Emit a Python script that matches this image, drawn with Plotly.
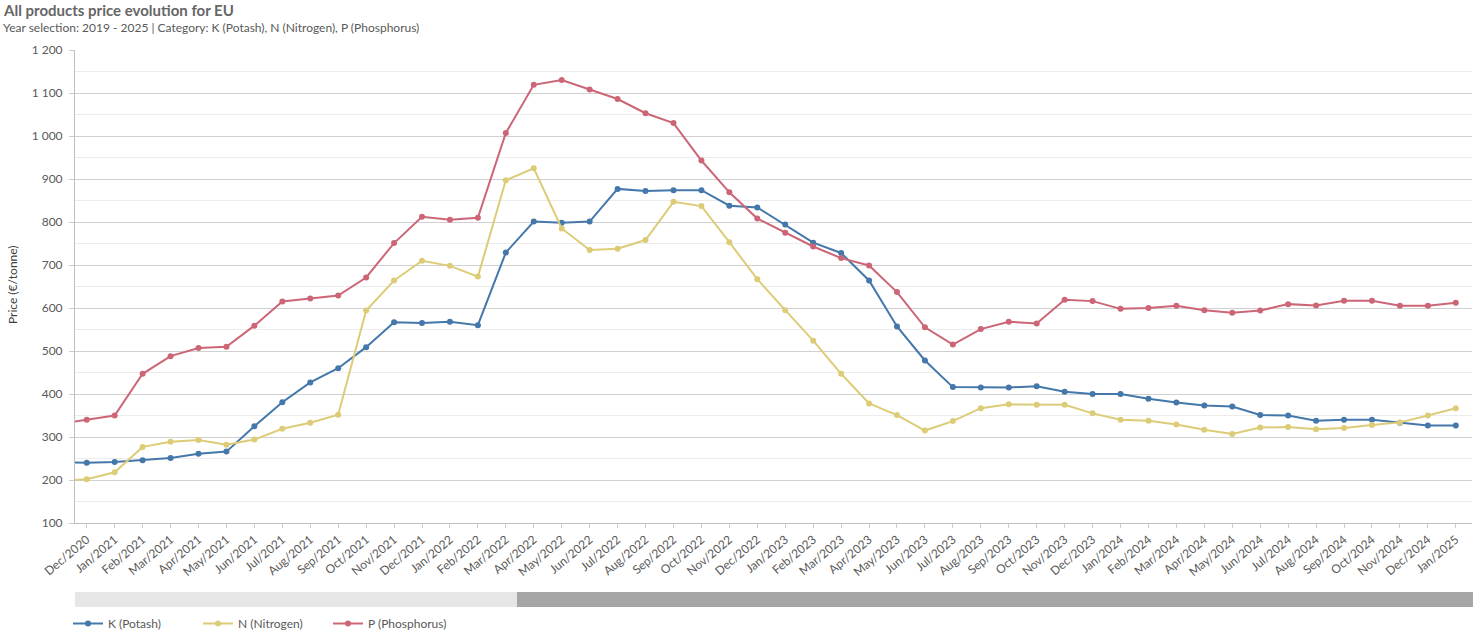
import plotly.graph_objects as go

months = [
    "Nov/2020", "Dec/2020",
    "Jan/2021", "Feb/2021", "Mar/2021", "Apr/2021", "May/2021", "Jun/2021",
    "Jul/2021", "Aug/2021", "Sep/2021", "Oct/2021", "Nov/2021", "Dec/2021",
    "Jan/2022", "Feb/2022", "Mar/2022", "Apr/2022", "May/2022", "Jun/2022",
    "Jul/2022", "Aug/2022", "Sep/2022", "Oct/2022", "Nov/2022", "Dec/2022",
    "Jan/2023", "Feb/2023", "Mar/2023", "Apr/2023", "May/2023", "Jun/2023",
    "Jul/2023", "Aug/2023", "Sep/2023", "Oct/2023", "Nov/2023", "Dec/2023",
    "Jan/2024", "Feb/2024", "Mar/2024", "Apr/2024", "May/2024", "Jun/2024",
    "Jul/2024", "Aug/2024", "Sep/2024", "Oct/2024", "Nov/2024", "Dec/2024",
    "Jan/2025",
]

k_potash = [
    242, 240,
    242, 246, 251, 261, 266, 325, 381, 427, 460, 509, 567, 565,
    568, 560, 729, 801, 798, 801, 877, 872, 874, 874, 838, 834,
    794, 752, 728, 664, 557, 478, 416, 415, 415, 418, 405, 400,
    400, 389, 380, 373, 371, 351, 350, 338, 340, 340, 333, 327,
    327,
]

n_nitrogen = [
    197, 202,
    218, 277, 289, 293, 282, 294, 319, 333, 352, 594, 664, 710,
    698, 673, 897, 925, 785, 735, 738, 758, 847, 837, 753, 667,
    595, 524, 447, 378, 351, 315, 337, 367, 376, 375, 375, 355,
    340, 338, 329, 317, 307, 322, 323, 318, 321, 328, 334, 350,
    367,
]

p_phosphorus = [
    330, 340,
    350, 447, 488, 507, 510, 559, 615, 622, 629, 671, 751, 812,
    805, 810, 1007, 1119, 1130, 1108, 1086, 1053, 1030, 943, 869, 808,
    775, 743, 716, 699, 637, 555, 515, 551, 568, 564, 619, 616,
    598, 600, 605, 595, 589, 594, 609, 606, 617, 617, 605, 605,
    612,
]

series_names = ["K (Potash)", "N (Nitrogen)", "P (Phosphorus)"]
series_colors = ["#4477aa", "#ddcc77", "#cc6677"]

y_ticks = [100, 200, 300, 400, 500, 600, 700, 800, 900, 1000, 1100, 1200]
y_tick_labels = ["100", "200", "300", "400", "500", "600", "700", "800",
                 "900", "1 000", "1 100", "1 200"]

FONT = "Lato"
GREY = "#595959"

fig = go.Figure()
for name, vals, col in zip(series_names, [k_potash, n_nitrogen, p_phosphorus], series_colors):
    fig.add_trace(go.Scatter(
        x=months, y=vals, name=name, mode="lines+markers",
        line=dict(color=col, width=2),
        marker=dict(color=col, size=6),
    ))

# plot area in pixels: x 75..1472, y 50..523
W, H = 1475, 641
L, R, T, B = 75, 3, 50, 118
pw = W - L - R
ph = H - T - B


def px_x(x):
    return (x - L) / pw


def px_y(y):
    return (H - B - y) / ph


fig.update_layout(
    width=W, height=H,
    margin=dict(l=L, r=R, t=T, b=B, autoexpand=False),
    paper_bgcolor="white", plot_bgcolor="white",
    font=dict(family=FONT, size=12, color=GREY),
    showlegend=True,
    legend=dict(
        orientation="h", x=px_x(68), xanchor="left", y=px_y(609), yanchor="top",
        font=dict(family=FONT, size=12, color=GREY),
        entrywidth=85, entrywidthmode="pixels", itemwidth=30,
        bgcolor="rgba(0,0,0,0)",
    ),
    xaxis=dict(
        type="category",
        categoryorder="array", categoryarray=months,
        range=[0.58, 50.58],
        tickangle=-40,
        tickfont=dict(family=FONT, size=12, color=GREY),
        ticks="outside", ticklen=4, tickcolor="#cccccc",
        showline=True, linecolor="#bfbfbf", linewidth=1,
        showgrid=False, automargin=False,
        tickmode="array", tickvals=months[1:], ticktext=months[1:],
    ),
    yaxis=dict(
        range=[100, 1200],
        tickmode="array", tickvals=y_ticks, ticktext=y_tick_labels,
        tickfont=dict(family=FONT, size=12, color=GREY),
        ticks="outside", ticklen=5, tickcolor="#cccccc",
        ticklabelstandoff=4,
        showline=True, linecolor="#bfbfbf", linewidth=1,
        showgrid=True, gridcolor="#d0d0d0", gridwidth=1,
        zeroline=False, automargin=False,
        minor=dict(dtick=50, tick0=50, showgrid=True, gridcolor="#ececec", gridwidth=1, ticks=""),
    ),
    annotations=[
        dict(text="<b>All products price evolution for EU</b>", xref="paper", yref="paper",
             x=px_x(1), y=px_y(10), xanchor="left", yanchor="middle", showarrow=False,
             font=dict(family=FONT, size=15, color="#666666")),
        dict(text="Year selection: 2019 - 2025 | Category: K (Potash), N (Nitrogen), P (Phosphorus)",
             xref="paper", yref="paper", x=px_x(1), y=px_y(28), xanchor="left", yanchor="middle",
             showarrow=False, font=dict(family=FONT, size=12, color=GREY)),
        dict(text="Price (€/tonne)", xref="paper", yref="paper", x=px_x(12), y=px_y(285),
             xanchor="center", yanchor="middle", textangle=-90, showarrow=False,
             font=dict(family=FONT, size=12, color="#404040")),
    ],
    shapes=[
        dict(type="rect", xref="paper", yref="paper", x0=px_x(75), x1=px_x(517),
             y0=px_y(592), y1=px_y(607), fillcolor="#e6e6e6", line=dict(width=0)),
        dict(type="rect", xref="paper", yref="paper", x0=px_x(517), x1=px_x(1473),
             y0=px_y(592), y1=px_y(607), fillcolor="#a6a6a6", line=dict(width=0)),
    ],
)

fig.write_html("out.html")
